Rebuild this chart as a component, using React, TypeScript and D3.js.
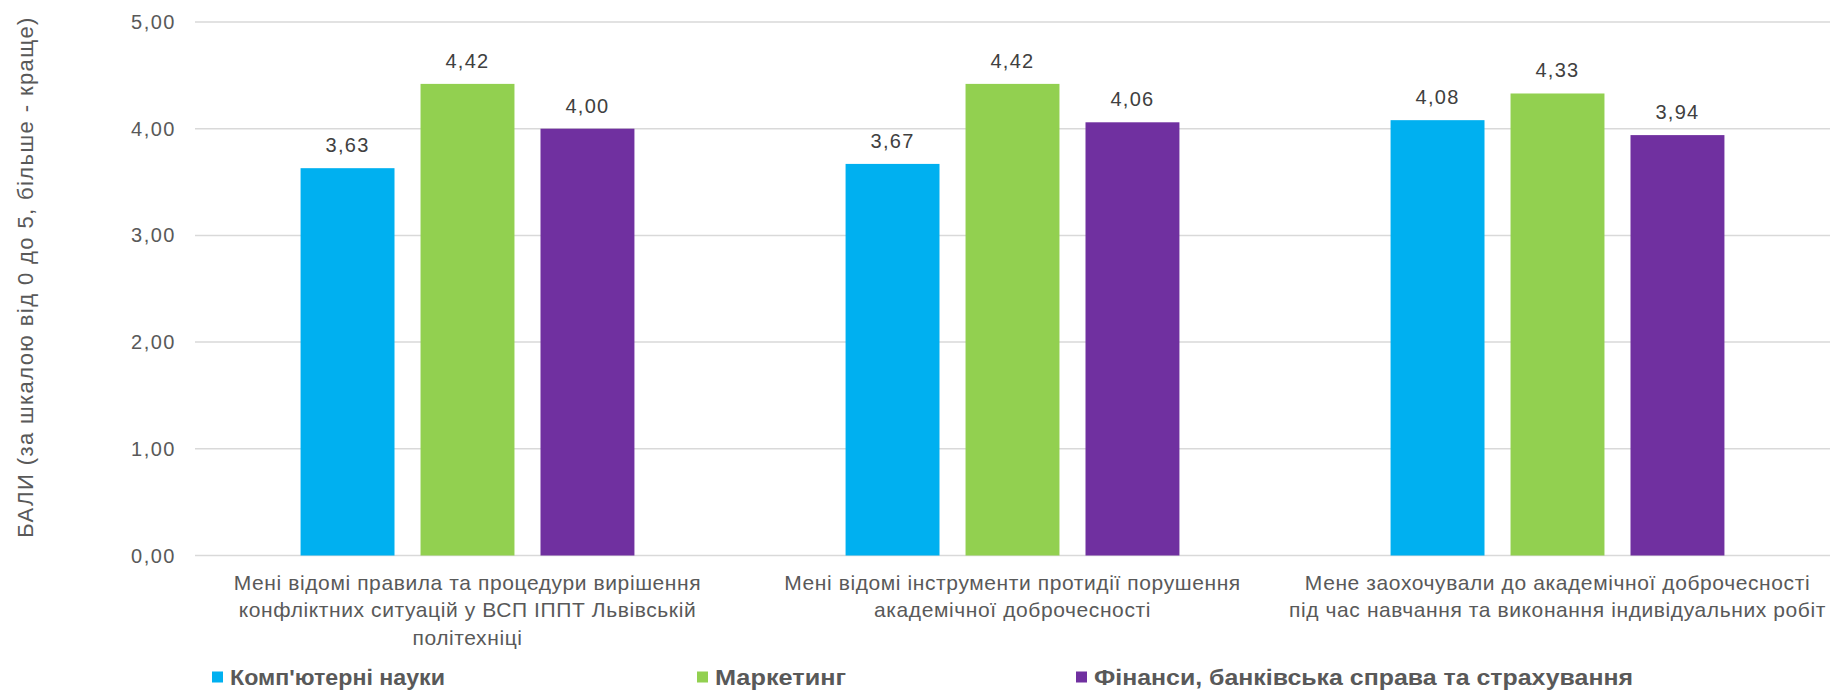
import * as d3 from 'd3'

const categories = [
	['Мені відомі правила та процедури вирішення', 'конфліктних ситуацій у ВСП ІППТ Львівській', 'політехніці'],
	['Мені відомі інструменти протидії порушення', 'академічної доброчесності'],
	['Мене заохочували до академічної доброчесності', 'під час навчання та виконання індивідуальних робіт'],
]
const seriesNames = ['Комп\'ютерні науки', 'Маркетинг', 'Фінанси, банківська справа та страхування']
const computerScience = [3.63, 3.67, 4.08]
const marketing = [4.42, 4.42, 4.33]
const finance = [4.0, 4.06, 3.94]
const yTicks = [0, 1, 2, 3, 4, 5]
const yTitle = 'БАЛИ (за шкалою від 0 до 5, більше - краще)'

// layout / style
const colors = ['#00b0f0', '#92d050', '#7030a0']
const width = 1833
const height = 692
const plot = { left: 195, right: 1830, top: 22, bottom: 555.5 }
const legendX = [212, 697, 1076]
const legendWidths = [215, 131, 539]
const font = 'Liberation Sans, Arial, sans-serif'

const fmt = (v: number) => v.toFixed(2).replace('.', ',')

export default function App() {
	const series = [computerScience, marketing, finance]
	const catIdx = categories.map((_, i) => String(i))

	const y = d3.scaleLinear().domain([0, 5]).range([plot.bottom, plot.top])
	const x0 = d3.scaleBand().domain(catIdx).range([plot.left, plot.right]).padding(0)
	const x1 = d3
		.scaleBand()
		.domain(seriesNames)
		.range([0, x0.bandwidth()])
		.paddingInner(0.217)
		.paddingOuter(0.88)

	return (
		<svg
			width={width}
			height={height}
			style={{ position: 'absolute', left: 0, top: 0, fontFamily: font }}
		>
			{/* gridlines */}
			{yTicks.map((t) => (
				<line
					key={t}
					x1={plot.left}
					x2={plot.right}
					y1={y(t)}
					y2={y(t)}
					stroke='#d9d9d9'
					strokeWidth={1.5}
				/>
			))}
			{yTicks.map((t) => (
				<text
					key={'l' + t}
					x={176}
					y={y(t)}
					textAnchor='end'
					dominantBaseline='central'
					fontSize={20}
					letterSpacing={1.5}
					fill='#595959'
				>
					{fmt(t)}
				</text>
			))}
			<text
				transform={`translate(25,277) rotate(-90)`}
				textAnchor='middle'
				dominantBaseline='central'
				fontSize={22}
				letterSpacing={1.4}
				fill='#595959'
			>
				{yTitle}
			</text>

			{/* bars */}
			{catIdx.map((c, ci) => (
				<g key={c} transform={`translate(${x0(c)},0)`}>
					{seriesNames.map((s, si) => {
						const v = series[si][ci]
						return (
							<g key={s}>
								<rect
									x={x1(s)}
									y={y(v)}
									width={x1.bandwidth()}
									height={y(0) - y(v)}
									fill={colors[si]}
								/>
								<text
									x={x1(s)! + x1.bandwidth() / 2}
									y={y(v) - 16}
									textAnchor='middle'
									fontSize={20}
									letterSpacing={1.3}
									fill='#404040'
								>
									{fmt(v)}
								</text>
							</g>
						)
					})}
				</g>
			))}

			{/* category labels */}
			{categories.map((lines, ci) =>
				lines.map((ln, li) => (
					<text
						key={'c' + ci + '-' + li}
						x={x0(String(ci))! + x0.bandwidth() / 2}
						y={582 + li * 27.5}
						textAnchor='middle'
						dominantBaseline='central'
						fontSize={21}
						letterSpacing={0.6}
						fill='#595959'
					>
						{ln}
					</text>
				))
			)}

			{/* legend */}
			{seriesNames.map((s, si) => (
				<g key={'lg' + s} transform={`translate(${legendX[si]},677)`}>
					<rect x={0} y={-5.5} width={11} height={11} fill={colors[si]} />
					<text
						x={18}
						y={0}
						dominantBaseline='central'
						fontSize={22}
						fontWeight='bold'
						textLength={legendWidths[si]}
						lengthAdjust='spacingAndGlyphs'
						fill='#595959'
					>
						{s}
					</text>
				</g>
			))}
		</svg>
	)
}
